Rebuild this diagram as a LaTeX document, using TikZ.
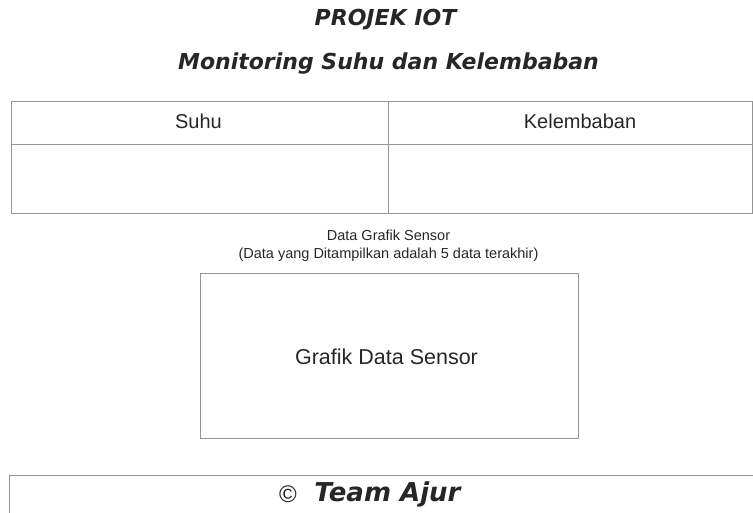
\documentclass[tikz,border=0pt]{standalone}
\usepackage{fontspec}
\setmainfont{Liberation Sans}
\newfontfamily\titlefont{DejaVu Sans}
\begin{document}
\begin{tikzpicture}[x=1pt,y=-1pt,
  frame/.style={draw=black!42,line width=0.9pt},
  title/.style={font=\titlefont\bfseries\itshape\fontsize{22}{26}\selectfont,text=black!85},
  label/.style={font=\fontsize{20}{24}\selectfont,text=black!85},
  small/.style={font=\fontsize{14.5}{18}\selectfont,text=black!85,align=center}]
\useasboundingbox (0,0) rectangle (753,513);
% heading
\node[title] (t1) at (385.5,20) {PROJEK IOT};
\node[title] (t2) at (388.5,64) {Monitoring Suhu dan Kelembaban};
% reading table
\draw[frame] (11,101) rectangle (752,213);
\draw[frame] (11,144) -- (752,144);
\draw[frame] (388,101) -- (388,213);
\node[label] (suhu) at (198.5,121) {Suhu};
\node[label] (lembab) at (580,121) {Kelembaban};
% chart area
\node[small] (cap) at (388.5,246) {Data Grafik Sensor\\(Data yang Ditampilkan adalah 5 data terakhir)};
\draw[frame] (200,273) rectangle (578,438);
\node[label,font=\fontsize{21.5}{25}\selectfont] (chart) at (386.5,357) {Grafik Data Sensor};
% footer
\draw[frame] (9,475) rectangle (760,530);
\node[font=\fontsize{24}{26}\selectfont,text=black!85,inner sep=0pt] (copy) at (288,494) {©};
\node[title,font=\titlefont\bfseries\itshape\fontsize{26}{30}\selectfont] (foot) at (387.5,494) {Team Ajur};
\end{tikzpicture}
\end{document}
